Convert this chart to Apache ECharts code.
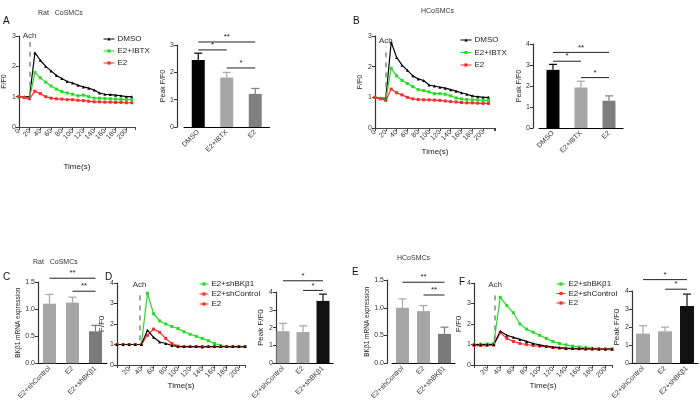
<!DOCTYPE html>
<html><head><meta charset="utf-8">
<script src="https://cdn.jsdelivr.net/npm/echarts@6/dist/echarts.min.js"></script>
<style>html,body{margin:0;padding:0;background:#fff}#c{width:700px;height:402px}</style>
</head><body><div id="c"></div>
<script>
// ---------- DATA ----------
const timeAB = [0,10,20,30,40,50,60,70,80,90,100,110,120,130,140,150,160,170,180,190,200,210];
const aDMSO = [1.0,1.0,1.0,2.45,2.2,2.0,1.85,1.7,1.6,1.5,1.45,1.38,1.32,1.28,1.22,1.12,1.08,1.07,1.05,1.03,1.0,1.0];
const aIBTX = [1.0,0.97,0.95,1.8,1.62,1.48,1.35,1.25,1.17,1.12,1.08,1.03,1.05,1.0,0.95,0.95,0.94,0.93,0.92,0.91,0.9,0.9];
const aE2   = [1.0,0.97,0.93,1.18,1.1,1.0,0.95,0.93,0.92,0.9,0.9,0.88,0.87,0.85,0.83,0.83,0.82,0.82,0.81,0.81,0.8,0.8];
const bDMSO = [1.0,0.98,0.97,2.8,2.3,2.05,1.88,1.7,1.6,1.55,1.4,1.37,1.33,1.3,1.25,1.2,1.15,1.1,1.05,1.02,1.0,1.0];
const bIBTX = [1.0,0.96,0.92,1.95,1.7,1.55,1.45,1.35,1.25,1.22,1.18,1.12,1.12,1.1,1.05,0.98,0.95,0.93,0.92,0.92,0.9,0.9];
const bE2   = [1.0,0.95,0.9,1.27,1.15,1.08,1.0,0.95,0.93,0.92,0.92,0.91,0.9,0.88,0.86,0.85,0.83,0.82,0.82,0.81,0.8,0.8];
const timeDF = [0,10,20,30,40,50,60,70,80,90,100,110,120,130,140,150,160,170,180,190,200,210];
const dShBK   = [1.0,1.0,1.0,1.0,1.0,3.5,2.5,2.15,2.0,1.88,1.78,1.62,1.5,1.4,1.3,1.18,1.05,0.95,0.9,0.9,0.9,0.9];
const dShCtrl = [1.0,1.0,1.0,1.0,1.0,1.45,1.75,1.6,1.3,1.05,0.92,0.9,0.9,0.9,0.9,0.9,0.9,0.9,0.9,0.9,0.9,0.9];
const dE2     = [1.0,1.0,1.0,1.0,1.0,1.7,1.35,1.12,1.05,0.95,0.9,0.9,0.9,0.9,0.88,0.9,0.9,0.9,0.9,0.9,0.9,0.9];
const fShBK   = [1.0,1.02,1.03,1.05,3.3,2.9,2.55,2.0,1.75,1.6,1.45,1.3,1.15,1.05,0.98,0.92,0.88,0.85,0.82,0.8,0.78,0.78];
const fShCtrl = [0.95,0.95,0.95,0.97,1.58,1.3,1.15,1.05,1.0,0.95,0.92,0.9,0.85,0.82,0.8,0.8,0.79,0.78,0.78,0.77,0.77,0.77];
const fE2     = [1.0,1.0,1.0,1.0,1.65,1.45,1.35,1.25,1.15,1.05,0.98,0.92,0.88,0.85,0.82,0.8,0.8,0.79,0.79,0.78,0.78,0.78];

const catAB = ['DMSO','E2+IBTX','E2'];
const peakA = [2.45,1.81,1.21]; const semA = [0.25,0.19,0.2];
const peakB = [2.77,1.93,1.3];  const semB = [0.26,0.3,0.23];
const catSh = ['E2+shControl','E2','E2+shBKβ1'];
const mrnaC = [1.1,1.12,0.59]; const semC = [0.17,0.1,0.11];
const mrnaE = [1.0,0.94,0.53]; const semE = [0.16,0.1,0.12];
const peakD = [1.8,1.75,3.5];  const semD = [0.44,0.35,0.38];
const peakF = [1.64,1.77,3.17]; const semF = [0.44,0.23,0.66];
// significance brackets: [from, to, height], labels
const sigA = [[0,2,3.11],[0,1,2.82],[1,2,2.16]]; const sigAL = ['**','*','*'];
const sigB = [[0,2,3.6],[0,1,3.18],[1,2,2.4]];  const sigBL = ['**','*','*'];
const sigC = [[0,2,1.57],[1,2,1.33]]; const sigCL = ['**','**'];
const sigD = [[0,2,4.63],[1,2,4.09]]; const sigDL = ['*','*'];
const sigE = [[0,2,1.46],[1,2,1.23]]; const sigEL = ['**','**'];
const sigF = [[0,2,4.63],[1,2,4.1]];  const sigFL = ['*','*'];
const tickLabelsTime = [0,20,40,60,80,100,120,140,160,180,200];

// ---------- STYLE ----------
const FF = 'Liberation Sans, Arial, sans-serif';
const GREEN = '#22dd22', RED = '#ff2a2a', BLACK = '#000';
const colAB = ['#000','#a6a6a6','#7f7f7f'];
const colCE = ['#a6a6a6','#a6a6a6','#7a7a7a'];
const colDF = ['#a6a6a6','#a6a6a6','#111'];

const grids = [
  {left:18, top:36, width:117, height:91},   // 0 A line
  {left:184, top:45, width:85.5, height:82}, // 1 A bar
  {left:375, top:36, width:120, height:92},  // 2 B line
  {left:539, top:44, width:84, height:84},   // 3 B bar
  {left:38, top:282, width:69, height:82},   // 4 C bar
  {left:117, top:283, width:128, height:82}, // 5 D line
  {left:273, top:292, width:60, height:74},  // 6 D bar
  {left:392, top:280, width:63, height:85},  // 7 E bar
  {left:474, top:283, width:138, height:82}, // 8 F line
  {left:632, top:291, width:66, height:73}   // 9 F bar
];

const axLine = (c,w)=>({show:true, lineStyle:{color:c||'#000', width:w||1}});
function timeX(gi, max, nameGap, showZero){
  return {type:'value', gridIndex:gi, min:0, max:max, interval:20,
    axisLine:axLine('#444',1.2), axisTick:{show:true, length:3, lineStyle:{color:'#444'}},
    splitLine:{show:false},
    axisLabel:{rotate:45, fontSize:7, color:'#333', fontFamily:FF, margin:3,
      formatter:v=> (tickLabelsTime.indexOf(v)>=0 && (showZero || v!==0)) ? String(v) : ''},
    name:'Time(s)', nameLocation:'middle', nameGap:nameGap,
    nameTextStyle:{fontSize:8, color:'#222', fontFamily:FF}};
}
function valY(gi, max, interval, name, nameGap, offset, fmt, nameSize){
  return {type:'value', gridIndex:gi, min:0, max:max, interval:interval, offset:offset||0,
    axisLine:axLine('#333',1.2), axisTick:{show:true, length:3, lineStyle:{color:'#333'}},
    splitLine:{show:false},
    axisLabel:{fontSize:7, color:'#333', fontFamily:FF, margin:3, formatter:fmt},
    name:name, nameLocation:'middle', nameGap:nameGap,
    nameTextStyle:{fontSize:nameSize||7, color:'#222', fontFamily:FF}};
}
function catX(gi, cats){
  return {type:'category', gridIndex:gi, data:cats,
    axisLine:axLine('#000',1.2), axisTick:{show:false},
    axisLabel:{rotate:45, fontSize:7, color:'#333', fontFamily:FF, margin:4, interval:0}};
}
function lineS(gi, name, times, vals, color, sym, extra){
  return Object.assign({type:'line', name:name, xAxisIndex:gi, yAxisIndex:gi,
    data:times.map((t,i)=>[t, vals[i]]), color:color,
    symbol:sym, symbolSize:3, showSymbol:true,
    lineStyle:{width:1.2, color:color}, itemStyle:{color:color}, z:3}, extra||{});
}
function achMark(t, y0, y1){
  return {markLine:{silent:true, symbol:['none','none'],
    lineStyle:{type:[5,5], color:'#888', width:1.5},
    label:{show:true, position:'end', formatter:'Ach', fontSize:8, color:'#333', fontFamily:FF, distance:2},
    data:[[{coord:[t,y0]},{coord:[t,y1]}]]}};
}
function barS(gi, vals, cols, w){
  return {type:'bar', xAxisIndex:gi, yAxisIndex:gi, barWidth:w||13,
    data:vals.map((v,i)=>({value:v, itemStyle:{color:cols[i]}})), z:2};
}
function errS(gi, vals, sems, cols){
  return {type:'custom', xAxisIndex:gi, yAxisIndex:gi, z:1, clip:false,
    data:vals.map((v,i)=>[i, v, v+sems[i]]),
    renderItem:(p, api)=>{
      const b = api.coord([api.value(0), api.value(1)]);
      const t = api.coord([api.value(0), api.value(2)]);
      const c = cols[p.dataIndex];
      return {type:'group', children:[
        {type:'line', shape:{x1:b[0], y1:b[1], x2:t[0], y2:t[1]}, style:{stroke:c, lineWidth:1.2}},
        {type:'line', shape:{x1:t[0]-4, y1:t[1], x2:t[0]+4, y2:t[1]}, style:{stroke:c, lineWidth:1.2}}
      ]};
    }};
}
function sigS(gi, sig, labels){
  return {type:'custom', xAxisIndex:gi, yAxisIndex:gi, z:4, clip:false,
    data:sig,
    renderItem:(p, api)=>{
      const a = api.coord([api.value(0), api.value(2)]);
      const b = api.coord([api.value(1), api.value(2)]);
      return {type:'group', children:[
        {type:'line', shape:{x1:a[0], y1:a[1], x2:b[0], y2:b[1]}, style:{stroke:'#222', lineWidth:1}},
        {type:'text', style:{text:labels[p.dataIndex], x:(a[0]+b[0])/2, y:a[1]-1,
          textAlign:'center', textVerticalAlign:'bottom', fontSize:8, fill:'#222', fontFamily:FF}}
      ]};
    }};
}
function legend(left, top, names, gap, iw){
  return {left:left, top:top, orient:'vertical', itemWidth:iw||11, itemHeight:4, itemGap:gap,
    padding:0, data:names, selectedMode:false,
    lineStyle:{width:1}, itemStyle:{borderWidth:0},
    textStyle:{fontSize:8, color:'#222', fontFamily:FF, padding:[0,0,0,-2]}};
}
const f1 = v=>v.toFixed(1);

const option = {
  animation:false,
  textStyle:{fontFamily:FF},
  grid: grids,
  xAxis:[
    timeX(0, 216, 36, true), catX(1, catAB), timeX(2, 222, 20, true), catX(3, catAB),
    catX(4, catSh), timeX(5, 210, 15, false), catX(6, catSh), catX(7, catSh),
    timeX(8, 210, 16, false), catX(9, catSh)
  ],
  yAxis:[
    valY(0, 3, 1, 'F/F0', 9), valY(1, 3, 1, 'Peak F/F0', 9, 7),
    valY(2, 3, 1, 'F/F0', 11), valY(3, 4, 1, 'Peak F/F0', 8, 6),
    valY(4, 1.5, 0.5, 'BKβ1 mRNA expression', 15, 0, f1, 6.5),
    valY(5, 4, 1, 'F/F0', 7, 0, null, 8), valY(6, 4, 1, 'Peak F/F0', 10, -3, null, 8),
    valY(7, 1.5, 0.5, 'BKβ1 mRNA expression', 15, 5, f1, 6.5),
    valY(8, 4, 1, 'F/F0', 7, 0, null, 8), valY(9, 4, 1, 'Peak F/F0', 10, 0, null, 8)
  ],
  legend:[
    legend(103, 35, ['DMSO','E2+IBTX','E2'], 4),
    legend(460, 36, ['DMSO','E2+IBTX','E2'], 4.5),
    legend(199, 280, ['E2+shBKβ1','E2+shControl','E2'], 2, 9),
    legend(556, 280, ['E2+shBKβ1','E2+shControl','E2'], 1.5, 9)
  ],
  series:[
    lineS(0,'DMSO',timeAB,aDMSO,BLACK,'triangle', achMark(20,1.0,2.8)),
    lineS(0,'E2+IBTX',timeAB,aIBTX,GREEN,'rect'),
    lineS(0,'E2',timeAB,aE2,RED,'rect'),
    barS(1, peakA, colAB), errS(1, peakA, semA, colAB), sigS(1, sigA, sigAL),
    lineS(2,'DMSO',timeAB,bDMSO,BLACK,'triangle', achMark(20,1.0,2.65)),
    lineS(2,'E2+IBTX',timeAB,bIBTX,GREEN,'rect'),
    lineS(2,'E2',timeAB,bE2,RED,'rect'),
    barS(3, peakB, colAB), errS(3, peakB, semB, colAB), sigS(3, sigB, sigBL),
    barS(4, mrnaC, colCE), errS(4, mrnaC, semC, colCE), sigS(4, sigC, sigCL),
    lineS(5,'E2+shBKβ1',timeDF,dShBK,GREEN,'rect', achMark(37,1.2,3.6)),
    lineS(5,'E2+shControl',timeDF,dShCtrl,RED,'rect'),
    lineS(5,'E2',timeDF,dE2,BLACK,'triangle'),
    barS(6, peakD, colDF), errS(6, peakD, semD, colDF), sigS(6, sigD, sigDL),
    barS(7, mrnaE, colCE), errS(7, mrnaE, semE, colCE), sigS(7, sigE, sigEL),
    lineS(8,'E2+shBKβ1',timeDF,fShBK,GREEN,'rect', achMark(32,1.2,3.6)),
    lineS(8,'E2+shControl',timeDF,fShCtrl,RED,'rect'),
    lineS(8,'E2',timeDF,fE2,BLACK,'triangle'),
    barS(9, peakF, colDF, 14), errS(9, peakF, semF, colDF), sigS(9, sigF, sigFL)
  ],
  graphic:[
    {type:'text', left:38, top:10, style:{text:'Rat   CoSMCs', fontSize:7, fill:'#333', fontFamily:FF}},
    {type:'text', left:3, top:16, style:{text:'A', fontSize:10, fill:'#111', fontFamily:FF}},
    {type:'text', left:421, top:8, style:{text:'HCoSMCs', fontSize:7, fill:'#333', fontFamily:FF}},
    {type:'text', left:353, top:16, style:{text:'B', fontSize:10, fill:'#111', fontFamily:FF}},
    {type:'text', left:33, top:259, style:{text:'Rat   CoSMCs', fontSize:7, fill:'#333', fontFamily:FF}},
    {type:'text', left:3, top:272, style:{text:'C', fontSize:10, fill:'#111', fontFamily:FF}},
    {type:'text', left:105, top:272, style:{text:'D', fontSize:10, fill:'#111', fontFamily:FF}},
    {type:'text', left:397, top:255, style:{text:'HCoSMCs', fontSize:7, fill:'#333', fontFamily:FF}},
    {type:'text', left:352, top:267, style:{text:'E', fontSize:10, fill:'#111', fontFamily:FF}},
    {type:'text', left:459, top:277, style:{text:'F', fontSize:10, fill:'#111', fontFamily:FF}}
  ]
};
const chart = echarts.init(document.getElementById('c'), null, {renderer:'canvas'});
chart.setOption(option);
</script>
</body></html>
